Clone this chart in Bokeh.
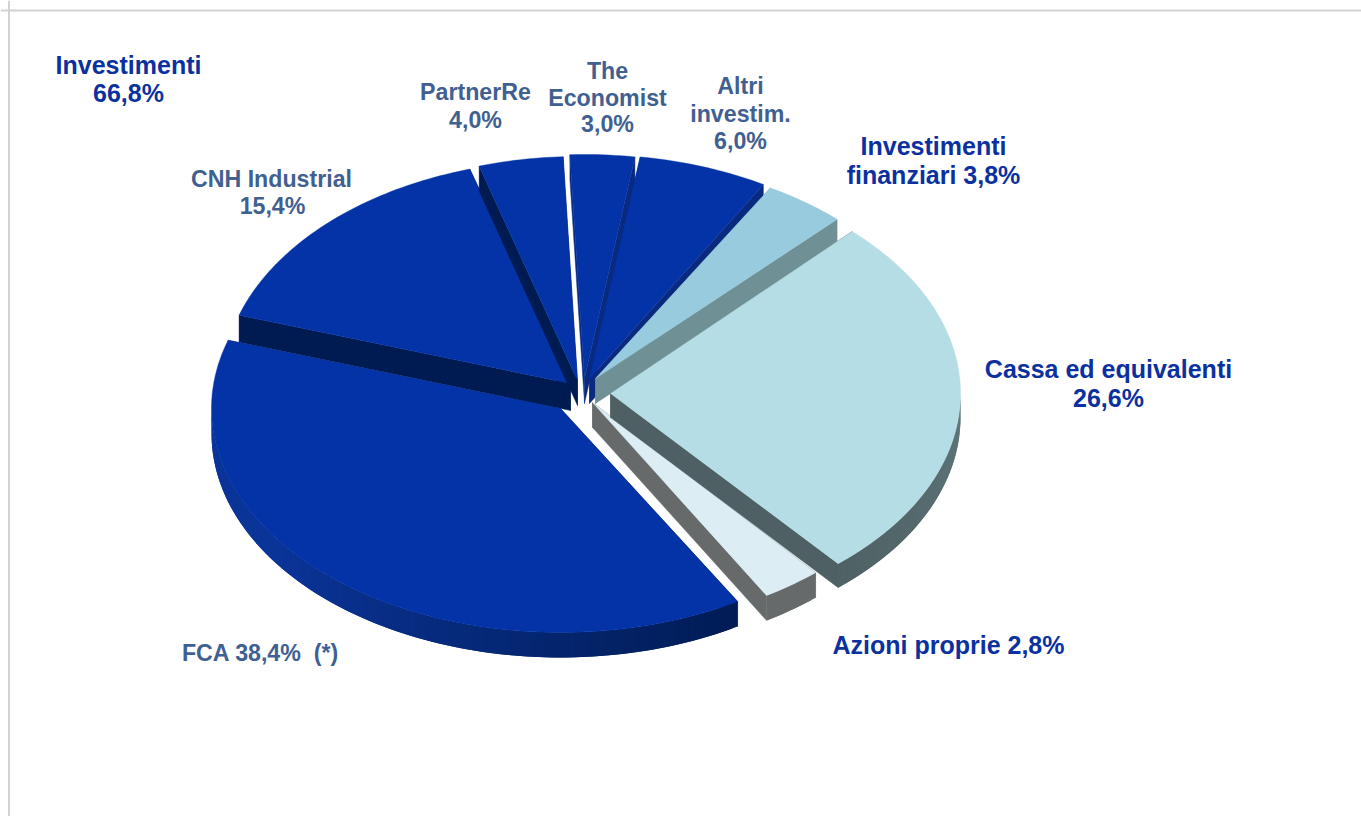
from bokeh.plotting import figure
from bokeh.models import Range1d, Span, ColumnDataSource
from bokeh.core.properties import value
from bokeh.embed import file_html
from bokeh.resources import INLINE
import math

# Portfolio breakdown, percent of the total
names = ["FCA", "CNH Industrial", "PartnerRe", "The Economist", "Altri investim.",
         "Investimenti finanziari", "Cassa ed equivalenti", "Azioni proprie"]
shares = [38.4, 15.4, 4.0, 3.0, 6.0, 3.8, 26.6, 2.8]
investments_total = 66.8

# Exploded position of each slice's apex, and its elliptical radii
apex_x = [560, 570, 577, 584, 589, 595, 610, 592]
apex_y = [408, 383, 380, 378, 378, 378, 393, 402]
radius_x = [349, 348, 340, 346, 348, 350, 350, 343]
radius_y = [224, 224, 224, 224, 224, 220, 224, 224]
depth = [25, 27, 25, 25, 25, 25, 24, 25]

top_colors = ["#0333a6", "#0333a6", "#0333a6", "#0333a6", "#0333a6", "#98cbde", "#b5dde6", "#dcedf4"]
edge_colors = ["#001a52", "#001a52", "#001a52", "#0a2a80", "#0a2a80", "#6f9095", "#4e6063", "#666a6a"]
rim_light = ["#0a3498", "#0a3498", "#0a3498", "#0a3498", "#0a3498", "#6f9095", "#5f767b", "#666a6a"]
rim_dark = ["#001a50", "#001a50", "#001a50", "#001a50", "#001a50", "#6f9095", "#4e6063", "#666a6a"]

draw_order = [1, 2, 3, 4, 5, 7, 6, 0]
first_angle = 149.5  # degrees clockwise from north where FCA begins

# Label lines: text, centre x, vertical anchor, size, colour
label_text = ["Investimenti", "66,8%", "CNH Industrial", "15,4%", "PartnerRe", "4,0%",
              "The", "Economist", "3,0%", "Altri", "investim.", "6,0%",
              "Investimenti", "finanziari 3,8%", "Cassa ed equivalenti", "26,6%",
              "Azioni proprie 2,8%", "FCA 38,4%\u00a0 (*)"]
label_x = [128, 128, 271, 272, 475, 475, 607, 607, 607, 740, 740, 740, 933, 933, 1108, 1108, 948, 260]
label_y = [64, 92, 178, 205, 91, 119, 70, 97, 123, 85, 113, 140, 145, 174, 368, 397, 644, 652]
strong = "#0b30a0"
muted = "#3f6090"
label_color = [strong, strong, muted, muted, muted, muted, muted, muted, muted, muted, muted, muted,
               strong, strong, strong, strong, strong, muted]
label_size = ["25px", "25px", "23.2px", "23.2px", "23.2px", "23.2px", "23.2px", "23.2px", "23.2px",
              "23.2px", "23.2px", "23.2px", "25px", "25px", "25px", "25px", "25px", "23.2px"]


def mix(c1, c2, t):
    a = [int(c1[i:i + 2], 16) for i in (1, 3, 5)]
    b = [int(c2[i:i + 2], 16) for i in (1, 3, 5)]
    return "#%02x%02x%02x" % tuple(round(a[i] + (b[i] - a[i]) * t) for i in range(3))


def rim_point(i, deg):
    rad = math.radians(deg)
    return apex_x[i] + radius_x[i] * math.sin(rad), apex_y[i] - radius_y[i] * math.cos(rad)


p = figure(width=1361, height=816, output_backend="svg", toolbar_location=None,
           x_range=Range1d(0, 1361), y_range=Range1d(816, 0), min_border=0,
           background_fill_color="white", border_fill_color="white", outline_line_color=None)
p.axis.visible = False
p.grid.visible = False

# Slide frame
p.add_layout(Span(location=8.5, dimension="height", line_color="#d2d2d2", line_width=2))
p.add_layout(Span(location=10, dimension="width", line_color="#d2d2d2", line_width=2))

# Cumulative angular range of every slice
starts, ends = [], []
angle = first_angle
for s in shares:
    starts.append(angle)
    angle += s * 3.6
    ends.append(angle)

for i in draw_order:
    ax, ay, d = apex_x[i], apex_y[i], depth[i]
    steps = max(2, int(ends[i] - starts[i]))
    angles = [starts[i] + (ends[i] - starts[i]) * k / steps for k in range(steps + 1)]
    rim = [rim_point(i, a) for a in angles]

    # Flat cut faces running from the apex to the rim
    for x, y in (rim[0], rim[-1]):
        p.patch([ax, x, x, ax], [ay, y, y + d, ay + d], fill_color=edge_colors[i], line_color=edge_colors[i], line_width=0.4)

    # Curved outer wall on the near half of the ellipse, darkening towards the right.
    # Each strip overlaps the next one so no seams appear between them.
    wall_xs, wall_ys, wall_cols = [], [], []
    for k in range(steps):
        mid = (angles[k] + angles[k + 1]) / 2 % 360
        if 90 <= mid <= 270:
            t = (mid - 90) / 180
            if i < 5:
                shade = mix(rim_dark[i], rim_light[i], min(1, max(0, (t - 0.3) / 0.5)))
            else:
                shade = mix(rim_light[i], rim_dark[i], min(1, t * 3.5))
            x0, y0 = rim[k]
            x1, y1 = rim[min(k + 2, steps)]
            wall_xs.append([x0, x1, x1, x0])
            wall_ys.append([y0, y1, y1 + d, y0 + d])
            wall_cols.append(shade)
    if wall_xs:
        p.patches(wall_xs, wall_ys, fill_color=wall_cols, line_color=None)

    top_x = [ax] + [r[0] for r in rim]
    top_y = [ay] + [r[1] for r in rim]
    p.patch(top_x, top_y, fill_color=top_colors[i], line_color=top_colors[i], line_width=0.4)

labels = ColumnDataSource(dict(x=label_x, y=label_y, text=label_text, color=label_color, size=label_size))
p.text("x", "y", text="text", source=labels, text_color="color", text_font_size="size",
       text_font=value("Liberation Sans"), text_font_style="bold",
       text_align="center", text_baseline="alphabetic")

open("out.html", "w").write(file_html(p, INLINE))
